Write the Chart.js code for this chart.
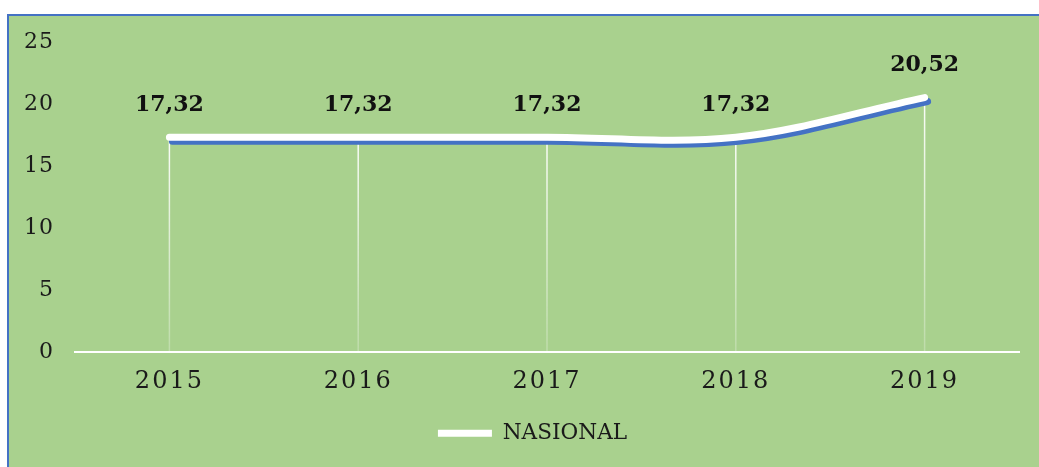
<!DOCTYPE html>
<html>
<head>
<meta charset="utf-8">
<script src="https://cdn.jsdelivr.net/npm/chart.js@4"></script>
<style>
  html, body { margin: 0; padding: 0; background: #ffffff; overflow: hidden; }
  .frame {
    position: absolute; left: 7px; top: 14px; width: 1030px; height: 451px;
    background: #a9d18e; border-top: 2px solid #4472c4; border-left: 2px solid #4472c4;
  }
  .wrap { position: absolute; left: 0; top: 0; width: 1039px; height: 467px; }
</style>
</head>
<body>
<div class="frame"></div>
<div class="wrap"><canvas id="nasionalChart"></canvas></div>
<script>
// ================= DATA =================

const years = ["2015", "2016", "2017", "2018", "2019"];

const nasionalValues = [17.32, 17.32, 17.32, 17.32, 20.52];

const yTicks = [0, 5, 10, 15, 20, 25];


// ================= PLUGINS =================

// Blue offset "shadow" under the white line
const lineShadow = {
    id: "lineShadow",
    beforeDatasetDraw(chart) {
        const { ctx } = chart;
        ctx.save();
        ctx.shadowColor = "#4472c4";
        ctx.shadowOffsetX = 3;
        ctx.shadowOffsetY = 4;
        ctx.shadowBlur = 0;
    },
    afterDatasetDraw(chart) {
        chart.ctx.restore();
    }
};

// White drop lines from each point down to the axis
const dropLines = {
    id: "dropLines",
    beforeDatasetsDraw(chart) {
        const { ctx } = chart;
        const base = chart.scales.y.getPixelForValue(0);
        ctx.save();
        chart.getDatasetMeta(0).data.forEach(point => {
            const grad = ctx.createLinearGradient(0, point.y, 0, base);
            grad.addColorStop(0, "rgba(255,255,255,0.95)");
            grad.addColorStop(1, "rgba(255,255,255,0.25)");
            ctx.strokeStyle = grad;
            ctx.lineWidth = 1.5;
            ctx.beginPath();
            ctx.moveTo(point.x, point.y);
            ctx.lineTo(point.x, base);
            ctx.stroke();
        });
        ctx.restore();
    }
};

// Value labels above the points
const valueLabels = {
    id: "valueLabels",
    afterDatasetsDraw(chart) {
        const { ctx } = chart;
        ctx.save();
        ctx.fillStyle = "#111111";
        ctx.font = "bold 22px 'DejaVu Serif'";
        ctx.textAlign = "center";
        ctx.textBaseline = "middle";
        chart.getDatasetMeta(0).data.forEach((point, i) => {
            ctx.fillText(
                nasionalValues[i].toFixed(2).replace(".", ","),
                point.x,
                point.y - 32
            );
        });
        ctx.restore();
    }
};

// Wider letter spacing on the axis numbers
const spacedTicks = {
    id: "spacedTicks",
    afterLayout(chart) {
        const spacing = { x: "2px", y: "1px" };
        ["x", "y"].forEach(id => {
            const scale = chart.scales[id];
            if (scale._spaced) return;
            const drawLabels = scale.drawLabels.bind(scale);
            scale.drawLabels = area => {
                scale.ctx.save();
                scale.ctx.letterSpacing = spacing[id];
                drawLabels(area);
                scale.ctx.restore();
            };
            scale._spaced = true;
        });
        // legend sits a little right of the canvas centre
        if (chart.legend) {
            chart.legend.left += 13;
            chart.legend.right += 13;
        }
    }
};


// ================= CHART =================

new Chart(
    document.getElementById("nasionalChart"),
    {
        type: "line",

        data: {
            labels: years,
            datasets: [
                {
                    label: "NASIONAL",
                    data: nasionalValues,
                    borderColor: "#ffffff",
                    backgroundColor: "#ffffff",
                    borderWidth: 7,
                    borderCapStyle: "round",
                    borderJoinStyle: "round",
                    tension: 0.35,
                    pointRadius: 0,
                    pointHoverRadius: 0,
                    fill: false
                }
            ]
        },

        options: {
            responsive: true,
            maintainAspectRatio: false,
            animation: false,

            layout: {
                padding: { left: 20, right: 20, top: 42, bottom: 13 }
            },

            plugins: {
                tooltip: { enabled: false },
                legend: {
                    position: "bottom",
                    labels: {
                        usePointStyle: true,
                        pointStyle: "line",
                        pointStyleWidth: 54,
                        color: "#1a1a1a",
                        font: { family: "'DejaVu Serif'", size: 21.6 },
                        padding: 11.5
                    }
                }
            },

            scales: {
                x: {
                    offset: true,
                    grid: { display: false, drawTicks: false },
                    border: { color: "#ffffff", width: 2 },
                    ticks: {
                        color: "#1a1a1a",
                        font: { family: "'DejaVu Serif'", size: 24 },
                        padding: 15
                    }
                },
                y: {
                    min: yTicks[0],
                    max: yTicks[yTicks.length - 1],
                    afterBuildTicks: scale => {
                        scale.ticks = yTicks.map(v => ({ value: v }));
                    },
                    afterFit: scale => {
                        scale.width = 55;
                    },
                    grid: { display: false, drawTicks: false },
                    border: { display: false },
                    ticks: {
                        color: "#1a1a1a",
                        font: { family: "'DejaVu Serif'", size: 22 },
                        padding: 21
                    }
                }
            }
        },

        plugins: [dropLines, lineShadow, valueLabels, spacedTicks]
    }
);
</script>
</body>
</html>
